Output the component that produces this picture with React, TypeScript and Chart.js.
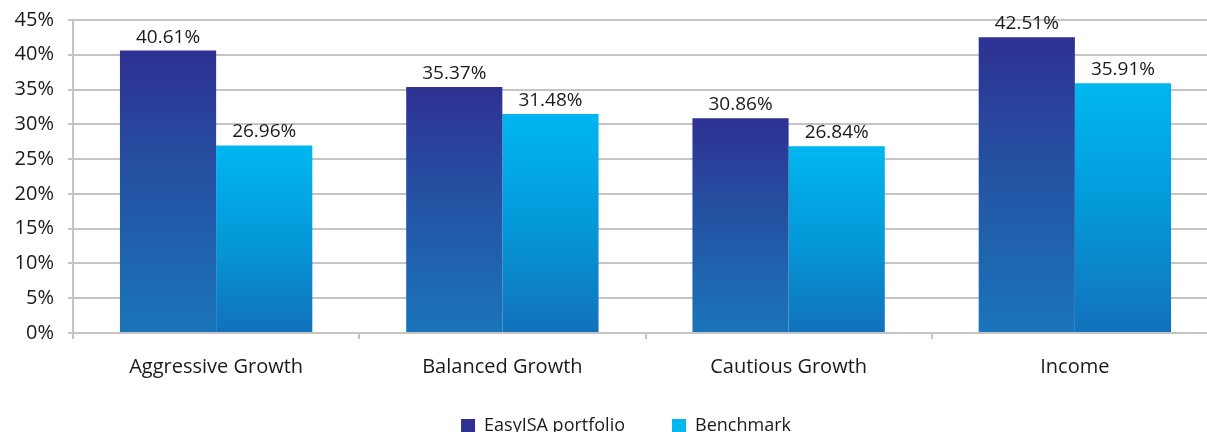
import React, { useEffect, useRef } from "react";
import { Chart, registerables } from "chart.js";

Chart.register(...registerables);

const categories = ["Aggressive Growth", "Balanced Growth", "Cautious Growth", "Income"];
const seriesNames = ["EasyISA portfolio", "Benchmark"];
const easyIsaValues = [40.61, 35.37, 30.86, 42.51];
const benchmarkValues = [26.96, 31.48, 26.84, 35.91];
const yMin = 0;
const yMax = 45;
const yStep = 5;

const FONT = "'Open Sans', sans-serif";
const TEXT = "#1a1a1a";
const GRID = "#c4c4c4";

const darkStops: [number, string][] = [
  [0, "#2e3192"],
  [0.45, "#2452a3"],
  [1, "#1a75bb"],
];
const lightStops: [number, string][] = [
  [0, "#00b7f0"],
  [0.5, "#0499d9"],
  [1, "#1271bb"],
];
const legendColors = [darkStops[0][1], lightStops[0][1]];

function gradientColor(stops: [number, string][]) {
  return (c: any) => {
    const chart = c.chart;
    if (c.type !== "data" || !chart.chartArea || !chart.scales.y) return stops[0][1];
    const y = chart.scales.y;
    const top = y.getPixelForValue(c.raw as number);
    const bottom = y.getPixelForValue(0);
    const g = chart.ctx.createLinearGradient(0, top, 0, bottom);
    stops.forEach(([o, col]) => g.addColorStop(o, col));
    return g;
  };
}

const valueLabels = {
  id: "valueLabels",
  afterDatasetsDraw(chart: any) {
    const ctx = chart.ctx;
    ctx.save();
    ctx.font = `19px ${FONT}`;
    ctx.fillStyle = TEXT;
    ctx.textAlign = "center";
    ctx.textBaseline = "alphabetic";
    chart.data.datasets.forEach((ds: any, i: number) => {
      chart.getDatasetMeta(i).data.forEach((bar: any, j: number) => {
        ctx.fillText(`${Number(ds.data[j]).toFixed(2)}%`, bar.x, bar.y - 8);
      });
    });
    ctx.restore();
  },
};

const LEGEND_DX = 13;
const LEGEND_DY = -23;
const legendNudge = {
  id: "legendNudge",
  afterLayout(chart: any) {
    const l = chart.legend;
    if (!l) return;
    l.left += LEGEND_DX;
    l.right += LEGEND_DX;
    l.top += LEGEND_DY;
    l.bottom += LEGEND_DY;
  },
};

export default function App() {
  const ref = useRef<HTMLCanvasElement | null>(null);
  useEffect(() => {
    if (!ref.current) return;
    const chart = new Chart(ref.current, {
      type: "bar",
      data: {
        labels: categories,
        datasets: [
          {
            label: seriesNames[0],
            data: easyIsaValues,
            backgroundColor: gradientColor(darkStops),
            borderWidth: 0,
            barPercentage: 1,
            categoryPercentage: 0.672,
          },
          {
            label: seriesNames[1],
            data: benchmarkValues,
            backgroundColor: gradientColor(lightStops),
            borderWidth: 0,
            barPercentage: 1,
            categoryPercentage: 0.672,
          },
        ],
      },
      options: {
        responsive: false,
        animation: false,
        layout: { padding: { left: 8, right: 4, top: 0, bottom: 0 } },
        plugins: {
          tooltip: { enabled: false },
          legend: {
            position: "bottom",
            labels: {
              boxWidth: 14,
              boxHeight: 14,
              padding: 47,
              color: TEXT,
              font: { family: FONT, size: 18 },
              generateLabels: (ch: any) => {
                const items = (Chart.defaults.plugins.legend.labels as any).generateLabels(ch);
                items.forEach((it: any, i: number) => {
                  it.fillStyle = legendColors[i];
                  it.strokeStyle = legendColors[i];
                  it.lineWidth = 0;
                });
                return items;
              },
            },
          },
        },
        scales: {
          x: {
            afterFit: (s: any) => {
              s.height = 60;
            },
            grid: {
              drawOnChartArea: false,
              drawTicks: true,
              tickLength: 6,
              color: GRID,
              lineWidth: 2,
            },
            border: { display: true, color: GRID, width: 2 },
            ticks: {
              color: TEXT,
              padding: 16,
              font: { family: FONT, size: 20 },
            },
          },
          y: {
            min: yMin,
            max: yMax,
            afterFit: (s: any) => {
              s.width = 65;
              s.paddingTop = 20;
              s.paddingBottom = 0;
            },
            ticks: {
              stepSize: yStep,
              color: TEXT,
              padding: 14,
              font: { family: FONT, size: 20 },
              callback: (v: any) => `${v}%`,
            },
            grid: { color: GRID, lineWidth: 2, tickLength: 5 },
            border: { display: true, color: GRID, width: 2 },
          },
        },
      },
      plugins: [valueLabels, legendNudge],
    });
    return () => chart.destroy();
  }, []);

  return (
    <div
      style={{
        position: "fixed",
        left: 0,
        top: 0,
        width: 1207,
        height: 432,
        overflow: "hidden",
        background: "#fff",
      }}
    >
      <canvas ref={ref} width={1222} height={468} style={{ display: "block" }} />
    </div>
  );
}
